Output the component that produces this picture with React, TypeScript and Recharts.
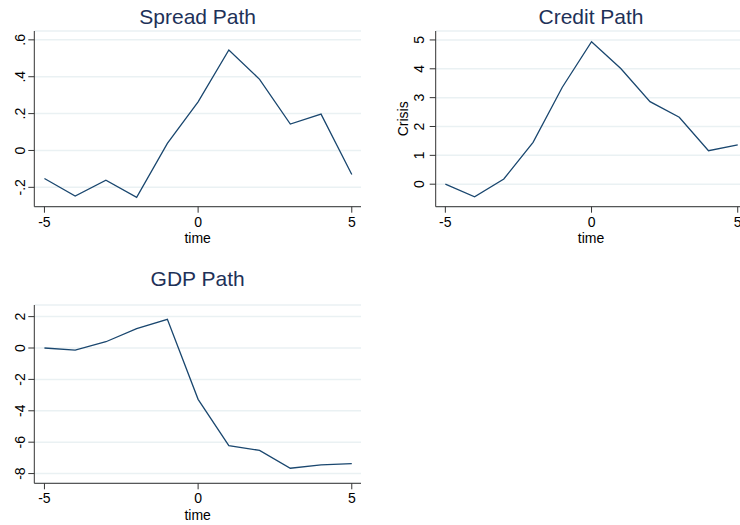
import { LineChart, Line, XAxis, YAxis, CartesianGrid } from 'recharts';

const TIME = [-5, -4, -3, -2, -1, 0, 1, 2, 3, 4, 5];
const SPREAD = [-0.152, -0.247, -0.161, -0.254, 0.038, 0.264, 0.545, 0.386, 0.143, 0.197, -0.13];
const CREDIT = [0, -0.44, 0.18, 1.45, 3.36, 4.94, 4.01, 2.86, 2.32, 1.16, 1.36];
const GDP = [0, -0.13, 0.4, 1.23, 1.83, -3.27, -6.22, -6.52, -7.66, -7.45, -7.37];

const X_TICKS = [-5, 0, 5];
const SPREAD_TICKS = [-0.2, 0, 0.2, 0.4, 0.6];
const CREDIT_TICKS = [0, 1, 2, 3, 4, 5];
const GDP_TICKS = [-8, -6, -4, -2, 0, 2];

const FONT = '"Liberation Sans", Arial, Helvetica, sans-serif';
const NAVY = '#1a476f';
const AXIS = '#333';
const GRID = '#eaf1f3';

const spreadFmt = (v: number) => (v === 0 ? '0' : String(v).replace('0.', '.'));

const RotTick = ({ x, y, payload, fmt }: any) => (
  <text
    x={x}
    y={y}
    transform={`rotate(-90 ${x} ${y})`}
    textAnchor="middle"
    fontSize={14}
    fontFamily={FONT}
    fill="#000"
  >
    {fmt ? fmt(payload.value) : payload.value}
  </text>
);

interface PanelProps {
  title: string;
  values: number[];
  yTicks: number[];
  yDomain: [number, number];
  fmt?: (v: number) => string;
  left: number;
  top: number;
  width: number;
  height: number;
  yWidth: number;
  marginTop: number;
  marginRight: number;
  xHeight: number;
  tickGap: number;
  titleX: number;
  yLabel?: string;
}

const Panel = (p: PanelProps) => {
  const data = TIME.map((t, i) => ({ time: t, v: p.values[i] }));
  return (
    <div style={{ position: 'absolute', left: p.left, top: p.top, width: p.width, height: p.height }}>
      <div
        style={{
          position: 'absolute',
          left: p.titleX - 100,
          width: 200,
          top: 6,
          textAlign: 'center',
          fontFamily: FONT,
          fontSize: 21,
          lineHeight: '21px',
          color: '#1e3158',
        }}
      >
        {p.title}
      </div>
      <LineChart
        width={p.width}
        height={p.height}
        data={data}
        margin={{ top: p.marginTop, right: p.marginRight, left: 0, bottom: 0 }}
      >
        <CartesianGrid vertical={false} stroke={GRID} strokeWidth={1.5} />
        <XAxis
          dataKey="time"
          type="number"
          domain={[-5.33, 5.3]}
          ticks={X_TICKS}
          height={p.xHeight}
          stroke={AXIS}
          tickSize={6}
          tickMargin={4}
          tick={{ fontSize: 14, fontFamily: FONT, fill: '#000' }}
          label={{ value: 'time', position: 'insideBottom', offset: p.xHeight - 36.3, fontSize: 14, fontFamily: FONT, fill: '#000' }}
        />
        <YAxis
          type="number"
          domain={p.yDomain}
          ticks={p.yTicks}
          width={p.yWidth}
          stroke={AXIS}
          tickSize={6}
          tickMargin={p.tickGap}
          allowDataOverflow
          tick={<RotTick fmt={p.fmt} />}
          label={p.yLabel ? { value: p.yLabel, angle: -90, position: 'center', fontSize: 14, fontFamily: FONT, fill: '#000' } : undefined}
        />
        <Line
          dataKey="v"
          stroke={NAVY}
          strokeWidth={1.3}
          dot={false}
          isAnimationActive={false}
          type="linear"
        />
      </LineChart>
    </div>
  );
};

export default function App() {
  return (
    <div
      style={{
        position: 'absolute',
        left: 0,
        top: 0,
        width: 740,
        height: 525,
        overflow: 'hidden',
        background: '#fff',
      }}
    >
      <Panel
        title="Spread Path"
        values={SPREAD}
        yTicks={SPREAD_TICKS}
        yDomain={[-0.305, 0.648]}
        fmt={spreadFmt}
        left={0}
        top={0}
        width={370}
        height={262}
        yWidth={34.3}
        marginTop={31}
        marginRight={9}
        xHeight={55.3}
        tickGap={3}
        titleX={197.7}
      />
      <Panel
        title="Credit Path"
        values={CREDIT}
        yTicks={CREDIT_TICKS}
        yDomain={[-0.78, 5.31]}
        left={370}
        top={0}
        width={380}
        height={262}
        yWidth={65.7}
        marginTop={31}
        marginRight={3.5}
        xHeight={55.3}
        tickGap={6}
        titleX={221}
        yLabel="Crisis"
      />
      <Panel
        title="GDP Path"
        values={GDP}
        yTicks={GDP_TICKS}
        yDomain={[-8.62, 2.74]}
        left={0}
        top={262}
        width={370}
        height={263}
        yWidth={34.3}
        marginTop={43}
        marginRight={9}
        xHeight={41.7}
        tickGap={3}
        titleX={197.7}
      />
    </div>
  );
}
